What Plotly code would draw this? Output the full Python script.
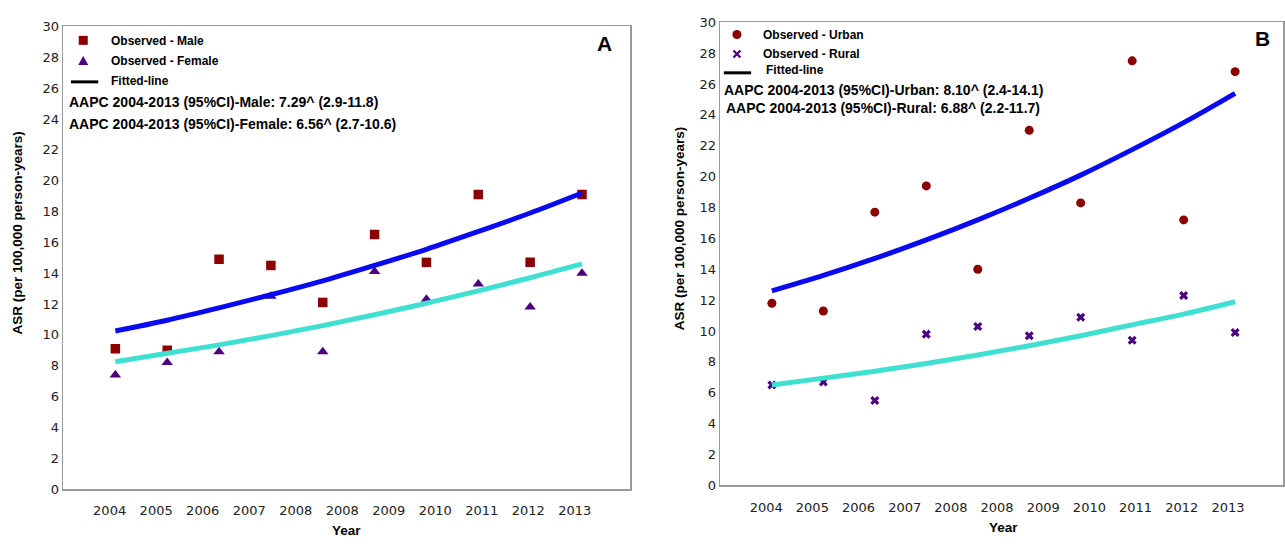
import numpy as np
import plotly.graph_objects as go

W, H = 1285, 544

# ---------------- data ----------------
years_points = ["2004", "2005", "2006", "2007", "2008", "2009", "2010", "2011", "2012", "2013"]
tick_labels = ["2004", "2005", "2006", "2007", "2008", "2008", "2009", "2010", "2011", "2012", "2013"]
y_ticks = list(range(0, 31, 2))

male_obs = [9.1, 9.0, 14.9, 14.5, 12.1, 16.5, 14.7, 19.1, 14.7, 19.1]
female_obs = [7.4, 8.2, 8.9, 12.5, 8.9, 14.1, 12.3, 13.3, 11.8, 14.0]
male_fit = [10.25, 10.95, 11.75, 12.6, 13.5, 14.5, 15.55, 16.7, 17.9, 19.2]
female_fit = [8.25, 8.8, 9.35, 9.95, 10.6, 11.3, 12.05, 12.85, 13.7, 14.6]

urban_obs = [11.8, 11.3, 17.7, 19.4, 14.0, 23.0, 18.3, 27.5, 17.2, 26.8]
rural_obs = [6.5, 6.7, 5.5, 9.8, 10.3, 9.7, 10.9, 9.4, 12.3, 9.9]
urban_fit = [12.6, 13.6, 14.7, 15.9, 17.2, 18.6, 20.1, 21.75, 23.5, 25.4]
rural_fit = [6.5, 6.95, 7.4, 7.9, 8.45, 9.05, 9.7, 10.4, 11.1, 11.9]

x_idx = list(range(len(years_points)))
tick_pos = np.linspace(-0.11, 8.86, len(tick_labels))

# ---------------- style ----------------
RED = "#8B0000"
PURPLE = "#4B0082"
BLUE = "#0A0AF0"
TURQ = "#40E0D0"
FRAME = "#9a9a9a"
TICKFONT = dict(family="DejaVu Sans", size=13, color="#222222")
BOLD = "Liberation Sans, Arial, sans-serif"


def px(x):
    return x / W


def py(y):
    return 1 - y / H


fig = go.Figure()

# Panel A
fig.add_trace(go.Scatter(x=x_idx, y=male_obs, mode="markers", xaxis="x", yaxis="y",
                         marker=dict(symbol="square", size=9.5, color=RED), showlegend=False))
fig.add_trace(go.Scatter(x=x_idx, y=female_obs, mode="markers", xaxis="x", yaxis="y",
                         marker=dict(symbol="triangle-up", size=10, color=PURPLE), showlegend=False))
fig.add_trace(go.Scatter(x=x_idx, y=male_fit, mode="lines", xaxis="x", yaxis="y", line_shape="spline",
                         line=dict(color=BLUE, width=5), showlegend=False))
fig.add_trace(go.Scatter(x=x_idx, y=female_fit, mode="lines", xaxis="x", yaxis="y", line_shape="spline",
                         line=dict(color=TURQ, width=5), showlegend=False))

# Panel B
fig.add_trace(go.Scatter(x=x_idx, y=urban_obs, mode="markers", xaxis="x2", yaxis="y2",
                         marker=dict(symbol="circle", size=9, color=RED), showlegend=False))
fig.add_trace(go.Scatter(x=x_idx, y=rural_obs, mode="markers", xaxis="x2", yaxis="y2",
                         marker=dict(symbol="x", size=8, color=PURPLE), showlegend=False))
fig.add_trace(go.Scatter(x=x_idx, y=urban_fit, mode="lines", xaxis="x2", yaxis="y2", line_shape="spline",
                         line=dict(color=BLUE, width=5), showlegend=False))
fig.add_trace(go.Scatter(x=x_idx, y=rural_fit, mode="lines", xaxis="x2", yaxis="y2", line_shape="spline",
                         line=dict(color=TURQ, width=5), showlegend=False))

xr = [-1.005, 9.93]
common_x = dict(range=xr, tickmode="array", tickvals=list(tick_pos), ticktext=tick_labels,
                showgrid=False, zeroline=False, showline=True, mirror=True, linecolor=FRAME,
                linewidth=1.5, ticks="outside", ticklen=9, tickcolor="rgba(0,0,0,0)",
                tickfont=TICKFONT, fixedrange=True)
common_y = dict(range=[0, 30], tickmode="array", tickvals=y_ticks, ticktext=[str(v) for v in y_ticks],
                showgrid=False, zeroline=False, showline=True, mirror=True, linecolor=FRAME,
                linewidth=1.5, ticks="", tickfont=TICKFONT, fixedrange=True)

fig.update_layout(
    width=W, height=H,
    margin=dict(l=0, r=0, t=0, b=0),
    paper_bgcolor="white", plot_bgcolor="white",
    hovermode=False,
    xaxis=dict(domain=[px(63.3), px(630.7)], anchor="y", **common_x),
    yaxis=dict(domain=[py(495.7), py(20)], anchor="x", **common_y),
    xaxis2=dict(domain=[px(720.7), px(1284)], anchor="y2", **common_x),
    yaxis2=dict(domain=[py(492), py(15.7)], anchor="x2", **common_y),
)

ann = []


def text(x, y, s, size, xanchor="left", angle=0):
    ann.append(dict(x=px(x), y=py(y), xref="paper", yref="paper", text=f"<b>{s}</b>",
                    showarrow=False, xanchor=xanchor, yanchor="middle", textangle=angle,
                    font=dict(family=BOLD, size=size, color="#000000"), borderpad=0))


# Axis titles
text(347, 538, "Year", 13.5, "center")
text(1004, 535, "Year", 13.5, "center")
text(18, 232, "ASR (per 100,000 person-years)", 13.5, "center", -90)
text(680, 228, "ASR (per 100,000 person-years)", 13.5, "center", -90)

# Panel letters
text(605, 38, "A", 21, "center")
text(1263, 32, "B", 21, "center")

# Legend A
text(110, 34.5, "Observed - Male", 12)
text(110, 56, "Observed - Female", 12)
text(110, 76, "Fitted-line", 12)
text(68.5, 97.5, "AAPC 2004-2013 (95%CI)-Male: 7.29^ (2.9-11.8)", 14)
text(68, 120, "AAPC 2004-2013 (95%CI)-Female: 6.56^ (2.7-10.6)", 14)

# Legend B
text(763, 28.3, "Observed - Urban", 12)
text(763, 48, "Observed - Rural", 12)
text(765.5, 64.5, "Fitted-line", 12)
text(724, 85.5, "AAPC 2004-2013 (95%CI)-Urban: 8.10^ (2.4-14.1)", 14)
text(726, 103.5, "AAPC 2004-2013 (95%CI)-Rural: 6.88^ (2.2-11.7)", 14)

fig.update_layout(annotations=ann)

shapes = []


def pshape(x, y, **kw):
    d = dict(xref="paper", yref="paper", xsizemode="pixel", ysizemode="pixel",
             xanchor=px(x), yanchor=py(y))
    d.update(kw)
    shapes.append(d)


# legend keys A
pshape(83.3, 34.3, type="rect", x0=-4.5, x1=4.5, y0=-4.5, y1=4.5, fillcolor=RED, line=dict(width=0))
pshape(83.3, 55.5, type="path", path="M -5,-4 L 5,-4 L 0,5 Z", fillcolor=PURPLE, line=dict(width=0))
shapes.append(dict(type="line", xref="paper", yref="paper", x0=px(71), x1=px(98.3), y0=py(77), y1=py(77),
                   line=dict(color="black", width=3)))
# legend keys B
pshape(737.5, 28.3, type="circle", x0=-4.5, x1=4.5, y0=-4.5, y1=4.5, fillcolor=RED, line=dict(width=0))
pshape(737.5, 48.3, type="path", path="M -3.5,-3.5 L 3.5,3.5 M -3.5,3.5 L 3.5,-3.5",
       line=dict(color=PURPLE, width=2.2))
shapes.append(dict(type="line", xref="paper", yref="paper", x0=px(724.4), x1=px(751.7), y0=py(67.7), y1=py(67.7),
                   line=dict(color="black", width=3)))

fig.update_layout(shapes=shapes)

fig.write_html("out.html",
               config={"displayModeBar": False, "staticPlot": True},
               post_script="document.body.style.margin='0';document.body.style.overflow='hidden';")
